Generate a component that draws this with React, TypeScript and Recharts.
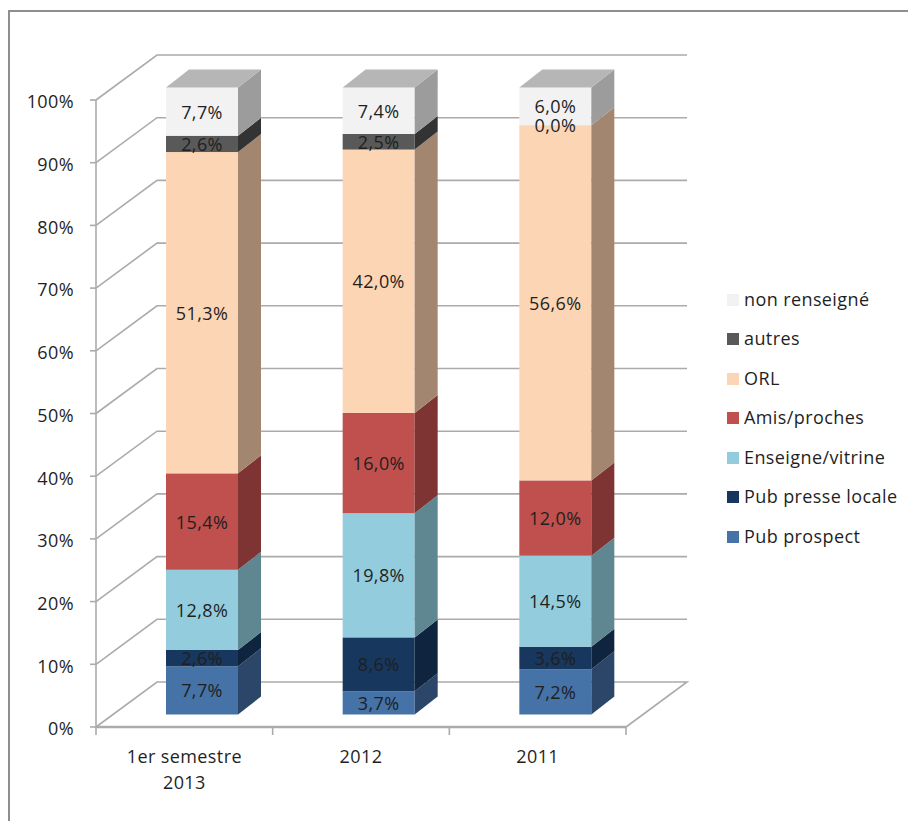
import React from "react";
import {
  BarChart,
  Bar,
  XAxis,
  YAxis,
  CartesianGrid,
  LabelList,
  Legend,
} from "recharts";

const categories = ["1er semestre\n2013", "2012", "2011"];

const pubProspect = [7.7, 3.7, 7.2];
const pubPresse = [2.6, 8.6, 3.6];
const enseigne = [12.8, 19.8, 14.5];
const amis = [15.4, 16.0, 12.0];
const orl = [51.3, 42.0, 56.6];
const autres = [2.6, 2.5, 0.0];
const nonRenseigne = [7.7, 7.4, 6.0];

const yTicks = [0, 0.1, 0.2, 0.3, 0.4, 0.5, 0.6, 0.7, 0.8, 0.9, 1];

// front, side and top shades of each series
const series = [
  { key: "pubProspect", name: "Pub prospect", values: pubProspect, fill: "#4572A7", side: "#2B4669", top: "#34567E" },
  { key: "pubPresse", name: "Pub presse locale", values: pubPresse, fill: "#17375E", side: "#0F243E", top: "#122C4B" },
  { key: "enseigne", name: "Enseigne/vitrine", values: enseigne, fill: "#93CDDD", side: "#5E8792", top: "#76A4B1" },
  { key: "amis", name: "Amis/proches", values: amis, fill: "#C0504D", side: "#7E3432", top: "#99403E" },
  { key: "orl", name: "ORL", values: orl, fill: "#FCD5B5", side: "#A28670", top: "#CAAA91" },
  { key: "autres", name: "autres", values: autres, fill: "#595959", side: "#333333", top: "#474747" },
  { key: "nonRenseigne", name: "non renseigné", values: nonRenseigne, fill: "#F2F2F2", side: "#9C9C9C", top: "#B6B6B6" },
];

const rows = categories.map((category, i) => {
  const row: Record<string, string | number> = { category };
  series.forEach((s) => {
    row[s.key] = s.values[i];
  });
  return row;
});

const WIDTH = 908;
const HEIGHT = 821;
const FONT = "'Open Sans', sans-serif";
const FONT_SIZE = 18;
const TRACKING = 0.4;
const INK = "#1f1f1f";
const AXIS = "#ababab";

// 3D projection: wall depth, bar depth, and bars' offset from their band
const WALL_DX = 61;
const WALL_DY = -45;
const BAR_DX = 23;
const BAR_DY = -18;
const SHIFT_X = 18;
const SHIFT_Y = -12.5;
const STEP = 530 / 3;

const pts = (list: number[][]) => list.map((p) => p.join(",")).join(" ");

function bar3d(s: (typeof series)[number], isTop: boolean) {
  return (props: any) => {
    const x = props.x + SHIFT_X;
    const y = props.y + SHIFT_Y;
    const { width: w, height: h } = props;
    return (
      <g>
        <rect x={x} y={y} width={w} height={h} fill={s.fill} />
        <polygon
          points={pts([
            [x + w, y],
            [x + w + BAR_DX, y + BAR_DY],
            [x + w + BAR_DX, y + h + BAR_DY],
            [x + w, y + h],
          ])}
          fill={s.side}
        />
        {isTop && (
          <polygon
            points={pts([
              [x, y],
              [x + BAR_DX, y + BAR_DY],
              [x + w + BAR_DX, y + BAR_DY],
              [x + w, y],
            ])}
            fill={s.top}
          />
        )}
      </g>
    );
  };
}

function segmentLabel(props: any) {
  const { x, y, width, height, value } = props;
  return (
    <text
      x={x + width / 2 + SHIFT_X}
      y={y + height / 2 + SHIFT_Y}
      textAnchor="middle"
      dominantBaseline="central"
      fontFamily={FONT}
      fontSize={FONT_SIZE}
      letterSpacing={TRACKING}
      fill={INK}
    >
      {Number(value).toFixed(1).replace(".", ",")}%
    </text>
  );
}

// gridline running up the side wall and along the back wall
function wallLine(props: any) {
  const { x1, x2, y1, index } = props;
  const isFloor = y1 > 700;
  return (
    <g key={index}>
      <polyline
        points={pts([
          [x1, y1],
          [x1 + WALL_DX, y1 + WALL_DY],
          [x2 + WALL_DX, y1 + WALL_DY],
          ...(isFloor ? [[x2, y1]] : []),
        ])}
        fill="none"
        stroke={AXIS}
        strokeWidth={1.6}
      />
    </g>
  );
}

function CategoryTick(props: any) {
  const { x, y, payload, index } = props;
  const lines = String(payload.value).split("\n");
  return (
    <g>
      <line x1={x - STEP / 2} x2={x - STEP / 2} y1={727} y2={735} stroke={AXIS} strokeWidth={1.6} />
      {index === categories.length - 1 && (
        <line x1={x + STEP / 2} x2={x + STEP / 2} y1={727} y2={735} stroke={AXIS} strokeWidth={1.6} />
      )}
      {lines.map((line, i) => (
        <text
          key={line}
          x={x}
          y={y + 1 + i * 26}
          textAnchor="middle"
          dominantBaseline="central"
          fontFamily={FONT}
          fontSize={FONT_SIZE}
          letterSpacing={TRACKING}
          fill={INK}
        >
          {line}
        </text>
      ))}
    </g>
  );
}

function LegendList({ payload }: any) {
  const items = [...(payload ?? [])].reverse();
  return (
    <div style={{ fontFamily: FONT, fontSize: FONT_SIZE, letterSpacing: TRACKING, color: INK }}>
      {items.map((item: any) => (
        <div key={item.value} style={{ display: "flex", alignItems: "center", height: 39.5 }}>
          <span style={{ width: 12, height: 12, background: item.color, marginRight: 5 }} />
          <span style={{ position: "relative", top: -1 }}>{item.value}</span>
        </div>
      ))}
    </div>
  );
}

export default function App() {
  return (
    <div style={{ position: "absolute", left: 0, top: 0, width: WIDTH, height: HEIGHT, background: "#fff", overflow: "hidden" }}>
      <div
        style={{
          position: "absolute",
          left: 8,
          top: 10,
          width: WIDTH,
          height: HEIGHT,
          borderLeft: "2px solid #8e8e8e",
          borderTop: "2px solid #8e8e8e",
        }}
      />
      <BarChart
        width={WIDTH}
        height={HEIGHT}
        data={rows}
        stackOffset="expand"
        margin={{ top: 100, right: 82, bottom: 34, left: 36 }}
        style={{ position: "absolute", left: 0, top: 0 }}
      >
        <CartesianGrid vertical={false} horizontal={wallLine} />
        <XAxis
          dataKey="category"
          height={60}
          axisLine={{ stroke: AXIS, strokeWidth: 2.5 }}
          tickLine={false}
          tickMargin={22}
          interval={0}
          tick={CategoryTick}
        />
        <YAxis
          width={60}
          domain={[0, 1]}
          ticks={yTicks}
          axisLine={{ stroke: AXIS, strokeWidth: 1.6 }}
          tickLine={{ stroke: AXIS, strokeWidth: 1.6 }}
          tickSize={6}
          tickMargin={16}
          tick={{ fontFamily: FONT, fontSize: FONT_SIZE, letterSpacing: TRACKING, fill: INK, dy: 2 }}
          tickFormatter={(v: number) => `${Math.round(v * 100)}%`}
        />
        <Legend
          layout="vertical"
          align="right"
          verticalAlign="top"
          width={200}
          itemSorter={null}
          content={LegendList}
          wrapperStyle={{ left: 727, top: 280, right: "auto" }}
        />
        {series.map((s, i) => (
          <Bar
            key={s.key}
            dataKey={s.key}
            name={s.name}
            stackId="total"
            fill={s.fill}
            barSize={72}
            isAnimationActive={false}
            shape={bar3d(s, i === series.length - 1)}
          >
            <LabelList dataKey={s.key} content={segmentLabel} />
          </Bar>
        ))}
      </BarChart>
    </div>
  );
}
